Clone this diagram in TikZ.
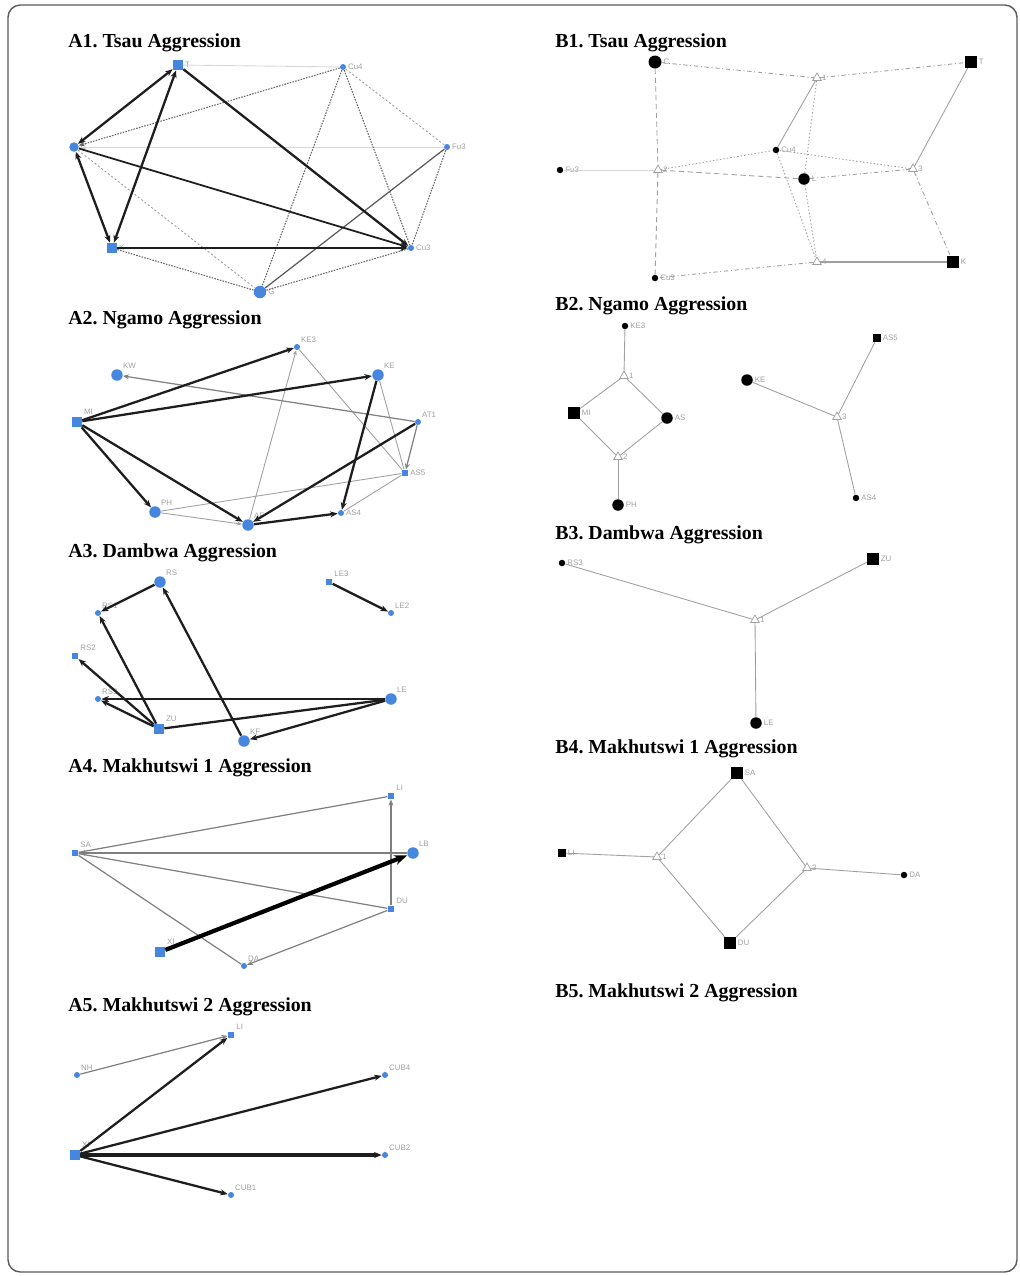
\documentclass[tikz,border=0pt]{standalone}
\usepackage{fontspec}
\setmainfont{Liberation Serif}
\setsansfont{Liberation Sans}
\usetikzlibrary{arrows.meta,shapes.geometric}
\frenchspacing
\definecolor{albastrunod}{RGB}{70,134,222}
\definecolor{gri}{RGB}{160,160,160}
\definecolor{grideschis}{RGB}{215,215,215}
\definecolor{negru}{RGB}{30,30,30}
\tikzset{
  titlu/.style        = {anchor=base west, inner sep=0pt, font=\fontsize{11.3}{13}\selectfont\bfseries},
  eticheta/.style     = {font=\fontsize{4.5}{5}\selectfont\sffamily, text=gri, inner sep=0.8pt},
  nodA/.style         = {fill=albastrunod, draw=none, inner sep=0pt},
  cercA/.style        = {nodA, circle, minimum size=2.3mm},
  cercmicA/.style     = {nodA, circle, minimum size=1.2mm},
  patratA/.style      = {nodA, rectangle, minimum size=2.0mm},
  patratmicA/.style   = {nodA, rectangle, minimum size=1.3mm},
  nodB/.style         = {fill=black, draw=none, inner sep=0pt},
  cercB/.style        = {nodB, circle, minimum size=2.3mm},
  cercmicB/.style     = {nodB, circle, minimum size=1.3mm},
  patratB/.style      = {nodB, rectangle, minimum size=2.3mm},
  patratmicB/.style   = {nodB, rectangle, minimum size=1.5mm},
  triunghi/.style     = {draw=gri, fill=white, regular polygon, regular polygon sides=3,
                         minimum size=2mm, inner sep=0pt, line width=0.4pt},
  sageata/.style      = {-{Stealth[length=1.5mm,width=1.2mm]}, line width=1.3pt, draw=negru},
  sageatamare/.style  = {-{Stealth[length=2.6mm,width=2mm]}, line width=2.4pt, draw=black},
  dubla/.style        = {{Stealth[length=1.5mm,width=1.2mm]}-{Stealth[length=1.5mm,width=1.2mm]},
                         line width=1.3pt, draw=negru},
  sageatagri/.style   = {-{Stealth[length=1.2mm,width=1mm]}, line width=0.7pt, draw=gray},
  liniegri/.style     = {line width=0.7pt, draw=gray},
  liniedeschisa/.style= {line width=0.5pt, draw=grideschis},
  punctat/.style      = {line width=0.6pt, draw=gray!80!black, dash pattern=on 0.9pt off 0.7pt},
  punctatslab/.style  = {line width=0.5pt, draw=gri, dash pattern=on 1.2pt off 1.2pt},
  legatura/.style     = {line width=0.5pt, draw=gri},
  punctlinie/.style   = {line width=0.5pt, draw=gri, dash pattern=on 2.5pt off 1.5pt on 0.6pt off 1.5pt},
  intrerupt/.style    = {line width=0.5pt, draw=gri, dash pattern=on 3pt off 2pt},
  punctmic/.style     = {line width=0.5pt, draw=gri, dash pattern=on 0.8pt off 1.2pt}
}
\begin{document}
\begin{tikzpicture}[x=0.02cm, y=-0.02cm]
  \useasboundingbox (0,0) rectangle (1020,1276);
  \draw[rounded corners=7pt, line width=0.8pt, draw=gray!70!black] (8,5) rectangle (1017,1272);

  \node[titlu] (ta1) at (68,47) {A1. Tsau Aggression};
  \node[titlu] (ta2) at (68,324) {A2. Ngamo Aggression};
  \node[titlu] (ta3) at (68,557) {A3. Dambwa Aggression};
  \node[titlu] (ta4) at (68,772) {A4. Makhutswi 1 Aggression};
  \node[titlu] (ta5) at (68,1011) {A5. Makhutswi 2 Aggression};
  \node[titlu] (tb1) at (555,47) {B1. Tsau Aggression};
  \node[titlu] (tb2) at (555,310) {B2. Ngamo Aggression};
  \node[titlu] (tb3) at (555,539) {B3. Dambwa Aggression};
  \node[titlu] (tb4) at (555,753) {B4. Makhutswi 1 Aggression};
  \node[titlu] (tb5) at (555,997) {B5. Makhutswi 2 Aggression};

  \node[patratA, label={[eticheta]right:T}] (a1t) at (178,65) {};
  \node[cercmicA, label={[eticheta]right:Cu4}] (a1cu4) at (343,67) {};
  \node[cercA, minimum size=1.9mm, label={[eticheta]right:C}] (a1c) at (74,147) {};
  \node[cercmicA, label={[eticheta]right:Fu3}] (a1fu3) at (447,147) {};
  \node[patratA, label={[eticheta]right:K}] (a1k) at (112,248) {};
  \node[cercmicA, label={[eticheta]right:Cu3}] (a1cu3) at (411,248) {};
  \node[cercA, minimum size=2.5mm, label={[eticheta]right:G}] (a1g) at (260,292) {};
  \draw[liniedeschisa] (a1t) -- (a1cu4);
  \draw[liniedeschisa] (a1c) -- (a1fu3);
  \draw[punctatslab] (a1c) -- (a1g);
  \draw[punctatslab] (a1cu4) -- (a1fu3);
  \draw[punctat, -{Stealth[length=1.2mm,width=1mm]}] (a1cu4) -- (a1c);
  \draw[punctat] (a1cu4) -- (a1g);
  \draw[punctat] (a1cu4) -- (a1cu3);
  \draw[punctat] (a1fu3) -- (a1cu3);
  \draw[punctat] (a1k) -- (a1g);
  \draw[punctat] (a1g) -- (a1cu3);
  \draw[liniegri, draw=gray!70!black] (a1fu3) -- (a1g);
  \draw[dubla] (a1t) -- (a1c);
  \draw[dubla] (a1t) -- (a1k);
  \draw[dubla] (a1c) -- (a1k);
  \draw[sageata, line width=1pt] (a1c) -- (a1cu3);
  \draw[sageata] (a1t) -- (a1cu3);
  \draw[sageata, line width=1.6pt] (a1k) -- (a1cu3);

  \node[cercmicA, label={[eticheta]above right:KE3}] (a2ke3) at (297,347) {};
  \node[cercA, label={[eticheta]above right:KW}] (a2kw) at (117,375) {};
  \node[cercA, label={[eticheta]above right:KE}] (a2ke) at (378,375) {};
  \node[patratA, label={[eticheta]above right:MI}] (a2mi) at (77,422) {};
  \node[cercmicA, label={[eticheta]above right:AT1}] (a2at1) at (418,422) {};
  \node[patratmicA, label={[eticheta]right:AS5}] (a2as5) at (405,473) {};
  \node[cercA, label={[eticheta]above right:PH}] (a2ph) at (155,512) {};
  \node[cercA, label={[eticheta]above right:AF}] (a2af) at (248,525) {};
  \node[cercmicA, label={[eticheta]right:AS4}] (a2as4) at (341,513) {};
  \draw[legatura, -{Stealth[length=1mm,width=0.8mm]}] (a2af) -- (a2ke3);
  \draw[legatura] (a2ke3) -- (a2as5);
  \draw[legatura] (a2ke) -- (a2as5);
  \draw[legatura] (a2ph) -- (a2as5);
  \draw[legatura] (a2as5) -- (a2as4);
  \draw[legatura, -{Stealth[length=1mm,width=0.8mm]}] (a2ph) -- (a2af);
  \draw[sageatagri] (a2at1) -- (a2as5);
  \draw[sageatagri] (a2at1) -- (a2kw);
  \draw[sageata] (a2mi) -- (a2ke3);
  \draw[sageata] (a2mi) -- (a2ke);
  \draw[sageata] (a2mi) -- (a2ph);
  \draw[sageata] (a2mi) -- (a2af);
  \draw[sageata] (a2ke) -- (a2as4);
  \draw[sageata] (a2at1) -- (a2af);
  \draw[sageata] (a2af) -- (a2as4);

  \node[cercA, label={[eticheta]above right:RS}] (a3rs) at (160,582) {};
  \node[cercmicA, label={[eticheta]above right:RS1}] (a3rs1) at (98,613) {};
  \node[patratmicA, label={[eticheta]above right:RS2}] (a3rs2) at (75,656) {};
  \node[cercmicA, label={[eticheta]above right:RS3}] (a3rs3) at (98,699) {};
  \node[patratA, label={[eticheta]above right:ZU}] (a3zu) at (159,729) {};
  \node[cercA, label={[eticheta]above right:KF}] (a3kf) at (244,741) {};
  \node[cercA, label={[eticheta]above right:LE}] (a3le) at (391,699) {};
  \node[patratmicA, label={[eticheta]above right:LE3}] (a3le3) at (329,582) {};
  \node[cercmicA, label={[eticheta]above right:LE2}] (a3le2) at (391,613) {};
  \draw[sageata] (a3rs) -- (a3rs1);
  \draw[sageata] (a3zu) -- (a3rs1);
  \draw[sageata] (a3zu) -- (a3rs2);
  \draw[sageata] (a3zu) -- (a3rs3);
  \draw[sageata] (a3kf) -- (a3rs);
  \draw[sageata] (a3le) -- (a3rs3);
  \draw[sageata] (a3zu) -- (a3le);
  \draw[sageata] (a3le) -- (a3kf);
  \draw[sageata] (a3le3) -- (a3le2);

  \node[patratmicA, label={[eticheta]above right:LI}] (a4li) at (391,796) {};
  \node[patratmicA, label={[eticheta]above right:SA}] (a4sa) at (75,853) {};
  \node[cercA, label={[eticheta]above right:LB}] (a4lb) at (413,853) {};
  \node[patratmicA, label={[eticheta]above right:DU}] (a4du) at (391,909) {};
  \node[patratA, label={[eticheta]above right:XI}] (a4xi) at (160,952) {};
  \node[cercmicA, label={[eticheta]above right:DA}] (a4da) at (244,966) {};
  \draw[liniegri] (a4sa) -- (a4li);
  \draw[liniegri] (a4sa) -- (a4du);
  \draw[liniegri] (a4sa) -- (a4da);
  \draw[sageatagri] (a4du) -- (a4li);
  \draw[sageatagri] (a4du) -- (a4da);
  \draw[sageatagri, line width=1pt, -{Stealth[length=1.3mm,width=1.1mm]}] (a4lb) -- (a4sa);
  \draw[sageatamare] (a4xi) -- (a4lb);

  \node[patratmicA, label={[eticheta]above right:LI}] (a5li) at (231,1035) {};
  \node[cercmicA, label={[eticheta]above right:NH}] (a5nh) at (77,1075) {};
  \node[cercmicA, label={[eticheta]above right:CUB4}] (a5cub4) at (385,1075) {};
  \node[patratA, label={[eticheta]above right:XI}] (a5xi) at (75,1155) {};
  \node[cercmicA, label={[eticheta]above right:CUB2}] (a5cub2) at (385,1155) {};
  \node[cercmicA, label={[eticheta]above right:CUB1}] (a5cub1) at (231,1195) {};
  \draw[sageatagri] (a5nh) -- (a5li);
  \draw[sageata] (a5xi) -- (a5li);
  \draw[sageata] (a5xi) -- (a5cub4);
  \draw[sageata, line width=1.9pt] (a5xi) -- (a5cub2);
  \draw[sageata] (a5xi) -- (a5cub1);

  \node[cercB, minimum size=2.6mm, label={[eticheta]right:C}] (b1c) at (655,62) {};
  \node[triunghi, label={[eticheta]right:1}] (b1e1) at (817,78) {};
  \node[patratB, label={[eticheta]right:T}] (b1t) at (971,62) {};
  \node[cercmicB, label={[eticheta]right:Cu4}] (b1cu4) at (776,150) {};
  \node[cercmicB, label={[eticheta]right:Fu3}] (b1fu3) at (560,170) {};
  \node[triunghi, label={[eticheta]right:2}] (b1e2) at (658,170) {};
  \node[cercB, label={[eticheta]right:L}] (b1l) at (804,179) {};
  \node[triunghi, label={[eticheta]right:3}] (b1e3) at (913,169) {};
  \node[triunghi, label={[eticheta]right:4}] (b1e4) at (817,262) {};
  \node[patratB, label={[eticheta]right:K}] (b1k) at (953,262) {};
  \node[cercmicB, label={[eticheta]right:Cu3}] (b1cu3) at (655,278) {};
  \draw[liniedeschisa] (b1fu3) -- (b1e2);
  \draw[punctlinie] (b1c) -- (b1e1);
  \draw[punctlinie] (b1e1) -- (b1t);
  \draw[punctlinie] (b1l) -- (b1e3);
  \draw[punctlinie] (b1e4) -- (b1cu3);
  \draw[punctlinie] (b1e3) -- (b1k);
  \draw[intrerupt] (b1c) -- (b1e2);
  \draw[intrerupt] (b1e2) -- (b1cu3);
  \draw[intrerupt] (b1e2) -- (b1l);
  \draw[punctmic] (b1e2) -- (b1cu4);
  \draw[punctmic] (b1cu4) -- (b1e3);
  \draw[punctmic] (b1e1) -- (b1l);
  \draw[punctmic] (b1cu4) -- (b1e4);
  \draw[punctmic] (b1l) -- (b1e4);
  \draw[legatura] (b1e1) -- (b1cu4);
  \draw[legatura] (b1e3) -- (b1t);
  \draw[legatura, line width=0.8pt] (b1e4) -- (b1k);

  \node[cercmicB, label={[eticheta]right:KE3}] (b2ke3) at (625,326) {};
  \node[triunghi, label={[eticheta]right:1}] (b2e1) at (624,376) {};
  \node[patratB, label={[eticheta]right:MI}] (b2mi) at (574,413) {};
  \node[cercB, label={[eticheta]right:AS}] (b2as) at (667,418) {};
  \node[triunghi, label={[eticheta]right:2}] (b2e2) at (618,457) {};
  \node[cercB, label={[eticheta]right:PH}] (b2ph) at (618,505) {};
  \node[cercB, label={[eticheta]right:KE}] (b2ke) at (747,380) {};
  \node[triunghi, label={[eticheta]right:3}] (b2e3) at (837,417) {};
  \node[patratmicB, label={[eticheta]right:AS5}] (b2as5) at (877,338) {};
  \node[cercmicB, label={[eticheta]right:AS4}] (b2as4) at (856,498) {};
  \draw[legatura] (b2ke3) -- (b2e1);
  \draw[legatura] (b2e1) -- (b2mi);
  \draw[legatura] (b2e1) -- (b2as);
  \draw[legatura] (b2mi) -- (b2e2);
  \draw[legatura] (b2as) -- (b2e2);
  \draw[legatura] (b2e2) -- (b2ph);
  \draw[legatura] (b2ke) -- (b2e3);
  \draw[legatura] (b2as5) -- (b2e3);
  \draw[legatura] (b2e3) -- (b2as4);

  \node[cercmicB, label={[eticheta]right:RS3}] (b3rs3) at (562,563) {};
  \node[patratB, label={[eticheta]right:ZU}] (b3zu) at (873,559) {};
  \node[triunghi, label={[eticheta]right:1}] (b3e1) at (755,620) {};
  \node[cercB, label={[eticheta]right:LE}] (b3le) at (756,723) {};
  \draw[legatura] (b3rs3) -- (b3e1);
  \draw[legatura] (b3zu) -- (b3e1);
  \draw[legatura] (b3e1) -- (b3le);

  \node[patratB, label={[eticheta]right:SA}] (b4sa) at (737,773) {};
  \node[patratmicB, label={[eticheta]right:LI}] (b4li) at (562,853) {};
  \node[triunghi, label={[eticheta]right:1}] (b4e1) at (657,857) {};
  \node[triunghi, label={[eticheta]right:2}] (b4e2) at (807,868) {};
  \node[cercmicB, label={[eticheta]right:DA}] (b4da) at (904,875) {};
  \node[patratB, label={[eticheta]right:DU}] (b4du) at (730,943) {};
  \draw[legatura] (b4li) -- (b4e1);
  \draw[legatura] (b4e1) -- (b4sa);
  \draw[legatura] (b4e1) -- (b4du);
  \draw[legatura] (b4sa) -- (b4e2);
  \draw[legatura] (b4du) -- (b4e2);
  \draw[legatura] (b4e2) -- (b4da);
\end{tikzpicture}
\end{document}
